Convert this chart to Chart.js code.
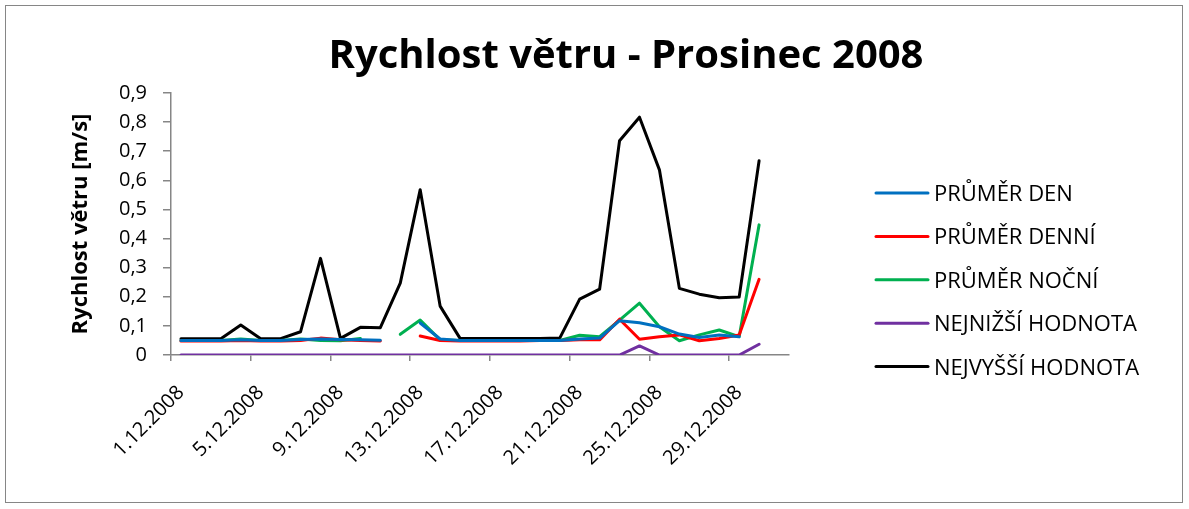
<!DOCTYPE html>
<html>
<head>
<meta charset="utf-8">
<script src="https://cdn.jsdelivr.net/npm/chart.js@4.4.0/dist/chart.umd.min.js"></script>
<style>
  html, body { margin: 0; padding: 0; background: #fff; }
  #wrap { width: 1189px; height: 509px; }
</style>
</head>
<body>
<div id="wrap"><canvas id="graf" width="1189" height="509"></canvas></div>
<script>
// dny v prosinci 2008
const dny = [];
for (let d = 1; d <= 31; d++) dny.push(d + ".12.2008");

const prumerDen = [0.05, 0.05, 0.05, 0.052, 0.05, 0.05, 0.053, 0.055, 0.053, 0.052, 0.051, null, 0.11, 0.055,
  0.05, 0.05, 0.05, 0.05, 0.05, 0.05, 0.055, 0.058, 0.118, 0.111, 0.097, 0.072, 0.06, 0.069, 0.063, null, null];
const prumerDenni = [0.048, 0.048, 0.048, 0.05, 0.048, 0.048, 0.05, 0.058, 0.052, 0.05, 0.048, null, 0.065, 0.05,
  0.048, 0.048, 0.048, 0.048, 0.05, 0.05, 0.052, 0.052, 0.123, 0.054, 0.063, 0.069, 0.049, 0.057, 0.069, 0.26, null];
const prumerNocni = [0.05, 0.05, 0.05, 0.055, 0.05, 0.05, 0.055, 0.05, 0.049, 0.057, null, 0.071, 0.12, 0.052,
  0.05, 0.05, 0.05, 0.05, 0.05, 0.05, 0.068, 0.063, 0.12, 0.178, 0.097, 0.049, 0.069, 0.086, 0.063, 0.447, null];
const nejnizsi = [0, 0, 0, 0, 0, 0, 0, 0, 0, 0, 0, 0, 0, 0, 0, 0, 0, 0, 0, 0, 0, 0, 0, 0.031, 0, 0, 0, 0, 0, 0.037, null];
const nejvyssi = [0.056, 0.056, 0.056, 0.103, 0.056, 0.056, 0.08, 0.332, 0.057, 0.095, 0.094, 0.247, 0.568, 0.168,
  0.057, 0.057, 0.057, 0.057, 0.057, 0.058, 0.192, 0.226, 0.736, 0.817, 0.636, 0.229, 0.209, 0.197, 0.199, 0.667, null];

const nazvy = ["PRŮMĚR DEN", "PRŮMĚR DENNÍ", "PRŮMĚR NOČNÍ", "NEJNIŽŠÍ HODNOTA", "NEJVYŠŠÍ HODNOTA"];
const barvy = ["#0070C0", "#FF0000", "#00B050", "#7030A0", "#000000"];
const rady = [prumerDen, prumerDenni, prumerNocni, nejnizsi, nejvyssi];

const pismo = "'Open Sans', Lato, sans-serif";
const seda = "#868686";

// nadpis, ramecek a legenda kreslime sami
const doplnky = {
  id: "doplnky",
  afterDraw(chart) {
    const ctx = chart.ctx;
    ctx.save();
    ctx.strokeStyle = seda;
    ctx.lineWidth = 1;
    ctx.strokeRect(5.5, 5.5, 1177, 497);

    ctx.fillStyle = "#000";
    ctx.font = "bold 40px " + pismo;
    ctx.textAlign = "center";
    ctx.textBaseline = "alphabetic";
    ctx.fillText("Rychlost větru - Prosinec 2008", 626, 68);

    ctx.font = "22px " + pismo;
    ctx.textAlign = "left";
    nazvy.forEach((n, i) => {
      const y = 193 + i * 43.4;
      ctx.strokeStyle = barvy[i];
      ctx.lineWidth = 3;
      ctx.lineCap = "round";
      ctx.beginPath();
      ctx.moveTo(876, y);
      ctx.lineTo(928, y);
      ctx.stroke();
      ctx.fillText(n, 934, y + 8);
    });
    ctx.restore();
  }
};

new Chart(document.getElementById("graf"), {
  type: "line",
  data: {
    labels: dny,
    datasets: rady.map((r, i) => ({
      label: nazvy[i],
      data: r,
      borderColor: barvy[i],
      backgroundColor: barvy[i],
      borderWidth: 3,
      pointRadius: 0,
      borderJoinStyle: "round",
      borderCapStyle: "round",
      spanGaps: false,
      tension: 0
    }))
  },
  options: {
    responsive: false,
    animation: false,
    layout: { padding: { left: 0, right: 400, top: 93, bottom: 0 } },
    plugins: {
      legend: { display: false },
      title: { display: false },
      tooltip: { enabled: false }
    },
    scales: {
      x: {
        offset: true,
        afterFit: s => { s.height = 154; },
        grid: {
          offset: true,
          drawOnChartArea: false,
          tickLength: 6,
          color: c => (c.index % 4 === 0 ? seda : "rgba(0,0,0,0)"),
          lineWidth: 1.5
        },
        border: { color: seda, width: 1.5 },
        ticks: {
          autoSkip: false,
          maxRotation: 45,
          minRotation: 45,
          padding: 20,
          color: "#000",
          font: { family: pismo, size: 20 },
          callback: (v, i) => (i % 4 === 0 ? dny[i] : "")
        }
      },
      y: {
        min: 0,
        max: 0.9,
        afterFit: s => { s.width = 171; },
        grid: { drawOnChartArea: false, tickLength: 8, color: seda, lineWidth: 1.5 },
        border: { color: seda, width: 1.5 },
        ticks: {
          stepSize: 0.1,
          padding: 16,
          color: "#000",
          font: { family: pismo, size: 20 },
          callback: v => (v === 0 ? "0" : v.toFixed(1).replace(".", ","))
        },
        title: {
          display: true,
          text: "Rychlost větru [m/s]",
          color: "#000",
          font: { family: pismo, size: 22, weight: "bold" },
          padding: { top: 68, bottom: 0 }
        }
      }
    }
  },
  plugins: [doplnky]
});
</script>
</body>
</html>
